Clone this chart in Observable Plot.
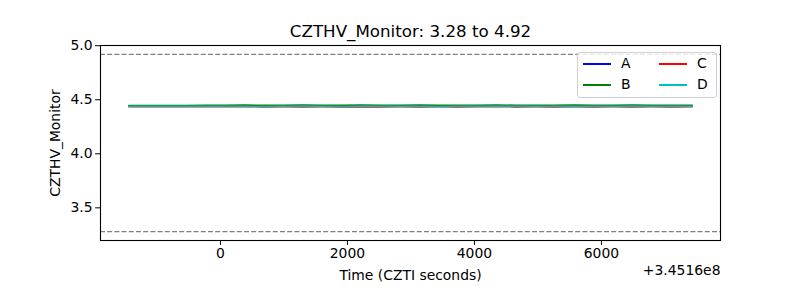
<!DOCTYPE html>
<html>
<head>
<meta charset="utf-8">
<script src="https://cdn.jsdelivr.net/npm/d3@7"></script>
<script src="https://cdn.jsdelivr.net/npm/@observablehq/plot@0.6"></script>
<style>
  html, body { margin: 0; padding: 0; background: #fff; }
  #wrap { position: relative; width: 800px; height: 300px; font-family: "DejaVu Sans", sans-serif; }
  #legend { position: absolute; left: 577px; top: 52px; width: 140px; height: 46px; box-sizing: border-box;
    border: 1px solid #d0d0d0; border-radius: 3px; background: rgba(255,255,255,0.8); }
  .sw { position: absolute; height: 1.5px; width: 28px; }
  .lb { position: absolute; font-size: 13.9px; line-height: 14px; color: #000; }
</style>
</head>
<body>
<div id="wrap"></div>
<script>
// ---- data ----
const titleText = "CZTHV_Monitor: 3.28 to 4.92";
const xLabel = "Time (CZTI seconds)";
const yLabel = "CZTHV_Monitor";
const xOffsetText = "+3.4516e8";
const seriesNames = ["A", "B", "C", "D"];
const seriesColors = ["#0000ff", "#008000", "#ff0000", "#00bfbf"];
const thresholds = [3.28, 4.92];
const xTicks = [0, 2000, 4000, 6000];
const yTicks = [3.5, 4.0, 4.5, 5.0];
const xDomain = [-1889, 7875];
const yDomain = [3.198, 5.002];

// time offsets (seconds, relative to 3.4516e8)
const times = [-1445, -1140, -835, -530, -225, 80, 385, 690, 995, 1300,
  1605, 1910, 2215, 2520, 2825, 3130, 3435, 3740, 4045, 4350,
  4655, 4960, 5265, 5570, 5875, 6180, 6485, 6790, 7095, 7431];
const valuesA = [4.441, 4.441, 4.442, 4.441, 4.441, 4.442, 4.441, 4.441, 4.442, 4.441,
  4.441, 4.442, 4.441, 4.441, 4.441, 4.442, 4.441, 4.441, 4.442, 4.441,
  4.441, 4.441, 4.442, 4.441, 4.441, 4.442, 4.441, 4.441, 4.441, 4.441];
const valuesB = [4.447, 4.447, 4.448, 4.448, 4.450, 4.449, 4.451, 4.449, 4.450, 4.451,
  4.449, 4.450, 4.451, 4.449, 4.450, 4.451, 4.450, 4.449, 4.450, 4.451,
  4.450, 4.449, 4.450, 4.451, 4.450, 4.449, 4.451, 4.450, 4.449, 4.450];
const valuesC = [4.436, 4.436, 4.436, 4.436, 4.436, 4.435, 4.436, 4.434, 4.435, 4.434,
  4.435, 4.434, 4.436, 4.434, 4.435, 4.434, 4.435, 4.434, 4.435, 4.436,
  4.434, 4.435, 4.434, 4.435, 4.434, 4.435, 4.434, 4.435, 4.434, 4.435];
const valuesD = [4.439, 4.439, 4.439, 4.439, 4.439, 4.439, 4.439, 4.438, 4.439, 4.439,
  4.439, 4.438, 4.439, 4.439, 4.439, 4.439, 4.438, 4.439, 4.439, 4.439,
  4.439, 4.439, 4.439, 4.438, 4.439, 4.439, 4.439, 4.439, 4.439, 4.439];
const seriesValues = [valuesA, valuesB, valuesC, valuesD];

// ---- chart ----
const lineMarks = seriesValues.map((vals, s) =>
  Plot.line(times.map((t, i) => ({t, v: vals[i]})), {x: "t", y: "v", stroke: seriesColors[s], strokeWidth: 1.5})
);

const chart = Plot.plot({
  width: 800,
  height: 300,
  marginTop: 45,
  marginBottom: 60,
  marginLeft: 100,
  marginRight: 80,
  style: {fontFamily: "DejaVu Sans, sans-serif", fontSize: "13.9px", color: "#000", background: "#fff"},
  x: {domain: xDomain},
  y: {domain: yDomain},
  marks: [
    Plot.ruleY(thresholds, {stroke: "#808080", strokeWidth: 1.1, strokeDasharray: "5,2.2"}),
    ...lineMarks,
    Plot.frame({stroke: "#000", strokeWidth: 1.1}),
    Plot.axisX({ticks: xTicks, tickSize: 4.9, tickPadding: 3, tickFormat: d3.format("d"), label: null, fontSize: 13.9}),
    Plot.axisY({ticks: yTicks, tickSize: 4.9, tickPadding: 3, tickFormat: d3.format(".1f"), label: null, fontSize: 13.9}),
    Plot.text([titleText], {frameAnchor: "top", dy: -14, lineAnchor: "middle", fontSize: 16.7, fill: "#000"}),
    Plot.text([xLabel], {frameAnchor: "bottom", dy: 35, lineAnchor: "middle", fontSize: 13.9, fill: "#000"}),
    Plot.text([xOffsetText], {frameAnchor: "bottom-right", dy: 30, lineAnchor: "middle", textAnchor: "end", fontSize: 13.9, fill: "#000"}),
    Plot.text([yLabel], {frameAnchor: "left", dx: -45, rotate: -90, textAnchor: "middle", lineAnchor: "middle", fontSize: 13.9, fill: "#000"})
  ]
});

const wrap = document.getElementById("wrap");
wrap.appendChild(chart);

// legend (two columns: A,B | C,D)
const legend = document.createElement("div");
legend.id = "legend";
seriesNames.forEach((name, i) => {
  const col = Math.floor(i / 2), row = i % 2;
  const sw = document.createElement("div");
  sw.className = "sw";
  sw.style.background = seriesColors[i];
  sw.style.left = (5 + col * 76) + "px";
  sw.style.top = (10 + row * 21) + "px";
  const lb = document.createElement("div");
  lb.className = "lb";
  lb.textContent = name;
  lb.style.left = (43 + col * 76) + "px";
  lb.style.top = (3 + row * 21) + "px";
  legend.appendChild(sw);
  legend.appendChild(lb);
});
wrap.appendChild(legend);
</script>
</body>
</html>
